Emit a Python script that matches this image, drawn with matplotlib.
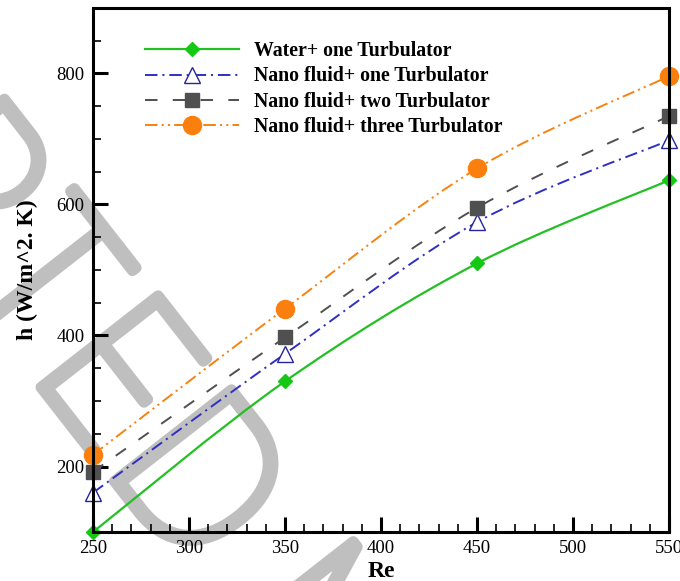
import matplotlib
matplotlib.use("Agg")
import matplotlib.pyplot as plt
from matplotlib.path import Path
from matplotlib.patches import PathPatch
from matplotlib.lines import Line2D
from matplotlib.ticker import MultipleLocator
from matplotlib import font_manager
import matplotlib.patheffects as pe
import numpy as np

# ---- data ----
reynolds = [250, 350, 450, 550]
water_one = [100, 330, 510, 637]
nano_one = [160, 372, 573, 698]
nano_two = [192, 397, 595, 735]
nano_three = [218, 441, 655, 796]

labels = [
    "Water+ one Turbulator",
    "Nano fluid+ one Turbulator",
    "Nano fluid+ two Turbulator",
    "Nano fluid+ three Turbulator",
]

x_ticks = [250, 300, 350, 400, 450, 500, 550]
y_ticks = [200, 400, 600, 800]

plt.rcParams["lines.scale_dashes"] = False
serif = ["Liberation Serif", "DejaVu Serif"]

fig = plt.figure(figsize=(6.8, 5.81), dpi=100)
ax = fig.add_axes([93 / 680, 1 - 532 / 581, (669 - 93) / 680, (532 - 8) / 581])
ax.set_facecolor("none")


def smooth_path(xs, ys):
    """Catmull-Rom spline through the points, expressed as cubic Bezier segments."""
    pts = np.column_stack([xs, ys]).astype(float)
    n = len(pts)
    verts = [pts[0]]
    codes = [Path.MOVETO]
    for i in range(n - 1):
        p0 = pts[i - 1] if i > 0 else pts[i]
        p1 = pts[i]
        p2 = pts[i + 1]
        p3 = pts[i + 2] if i + 2 < n else pts[i + 1]
        c1 = p1 + (p2 - p0) / 6.0
        c2 = p2 - (p3 - p1) / 6.0
        verts += [c1, c2, p2]
        codes += [Path.CURVE4] * 3
    return Path(np.array(verts), codes)


styles = [
    dict(color="#22c022", lw=1.6, ls="solid", marker="D", ms=7.5,
         mfc="#14c814", mec="#14c814", mew=1.0),
    dict(color="#2f2fc4", lw=1.4, ls=(0, (9, 3.5, 1.5, 3.5)), marker="^", ms=11.5,
         mfc="white", mec="#26269a", mew=1.0),
    dict(color="#505050", lw=1.4, ls=(0, (9, 11)), marker="s", ms=9.5,
         mfc="#505050", mec="#505050", mew=1.0),
    dict(color="#f7820f", lw=1.4, ls=(0, (9, 3, 1.5, 3, 1.5, 3)), marker="o", ms=13,
         mfc="#fb7f0c", mec="#fb7f0c", mew=1.0),
]
series = [water_one, nano_one, nano_two, nano_three]

handles = []
for ys, st, lab in zip(series, styles, labels):
    patch = PathPatch(smooth_path(reynolds, ys), facecolor="none",
                      edgecolor=st["color"], lw=st["lw"], ls=st["ls"],
                      zorder=3, clip_on=False)
    ax.add_patch(patch)
    ax.plot(reynolds, ys, ls="none", marker=st["marker"], ms=st["ms"],
            mfc=st["mfc"], mec=st["mec"], mew=st["mew"], zorder=4, clip_on=False)
    handles.append(Line2D([], [], color=st["color"], lw=st["lw"], ls=st["ls"],
                          marker=st["marker"], ms=st["ms"], mfc=st["mfc"],
                          mec=st["mec"], mew=st["mew"]))

ax.set_xlim(250, 550)
ax.set_ylim(100, 900)
ax.set_xticks(x_ticks)
ax.set_yticks(y_ticks)
ax.xaxis.set_minor_locator(MultipleLocator(10))
ax.yaxis.set_minor_locator(MultipleLocator(50))
ax.tick_params(which="both", direction="in", top=False, right=False,
               labelsize=13.5, pad=6)
ax.tick_params(which="major", length=11, width=2.2)
ax.tick_params(which="minor", length=6, width=1.2)
for lab in ax.get_xticklabels() + ax.get_yticklabels():
    lab.set_fontfamily(serif)
for sp in ax.spines.values():
    sp.set_linewidth(2.2)
    sp.set_zorder(5)

ax.set_xlabel("Re", fontfamily=serif, fontweight="bold", fontsize=17, labelpad=2.5)
ax.set_ylabel("h (W/m^2. K)", fontfamily=serif, fontweight="bold", fontsize=17,
              labelpad=13)

leg = ax.legend(handles, labels, loc="upper left", bbox_to_anchor=(0.0765, 0.952),
                frameon=False, handlelength=4.75, handletextpad=0.75,
                labelspacing=0.27, borderaxespad=0,
                prop=dict(family=serif, weight="bold", size=14.3))

# ---- diagonal watermark ----
thin = None
pref = ["Lato", "Roboto", "Inter", "Noto Sans", "Open Sans", "DejaVu Sans"]
cands = []
for f in font_manager.fontManager.ttflist:
    w = f.weight if isinstance(f.weight, int) else font_manager.weight_dict.get(f.weight, 400)
    if f.style == "normal" and f.name in pref:
        cands.append((w, pref.index(f.name), f.fname))
if cands:
    cands.sort()
    thin = font_manager.FontProperties(fname=cands[0][2])

wm_gray = "#bfbfbf"
wm_kw = dict(color=wm_gray, fontsize=147, rotation=-52, rotation_mode="anchor",
             va="baseline", zorder=-5,
             path_effects=[pe.withStroke(linewidth=8, foreground=wm_gray)])
if thin is not None:
    wm_kw["fontproperties"] = thin
    wm_kw["fontsize"] = 147
fig.text(190 / 680, 1 - 578 / 581, "ACCEPTED", ha="right", **wm_kw)
fig.text(222 / 680, 1 - 615 / 581, "MANUSCRIPT", ha="left", **wm_kw)

fig.savefig("out.png", dpi=100)
